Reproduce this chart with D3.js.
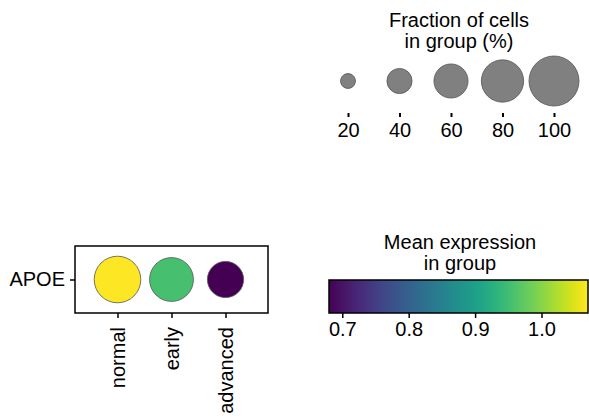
<!DOCTYPE html>
<html>
<head>
<meta charset="utf-8">
<script src="https://cdn.jsdelivr.net/npm/d3@7"></script>
<style>
  body { margin: 0; background: #fff; }
  text { font-family: "Liberation Sans", Arial, sans-serif; fill: #000; }
</style>
</head>
<body>
<svg width="589" height="419"></svg>
<script>
// Data
const genes = ["APOE"];
const groups = ["normal", "early", "advanced"];
const fraction = [91, 84, 65];          // % of cells in group
const meanExpr = [1.07, 0.955, 0.68];   // mean expression in group
const sizeTicks = [20, 40, 60, 80, 100];
const colorTicks = [0.7, 0.8, 0.9, 1.0];
const colorDomain = [0.68, 1.07];

const svg = d3.select("svg");
const fs = 20;

// scales
const r = d3.scalePow().exponent(0.75).domain([0, 100]).range([0, 25]);
const color = d3.scaleSequential(d3.interpolateViridis).domain(colorDomain);

// ---- main dot plot ----
const box = { left: 75, top: 246, right: 268, bottom: 313 };
const x = d3.scalePoint().domain(groups).range([box.left, box.right]).padding(0.787);
const y = d3.scalePoint().domain(genes).range([box.top, box.bottom]).padding(0.5);

const main = svg.append("g");

main.selectAll("circle.dot")
  .data(groups)
  .join("circle")
  .attr("class", "dot")
  .attr("cx", d => x(d))
  .attr("cy", y("APOE"))
  .attr("r", (d, i) => r(fraction[i]))
  .attr("fill", (d, i) => color(meanExpr[i]))
  .attr("stroke", "#555")
  .attr("stroke-width", 0.8);

main.append("rect")
  .attr("x", box.left).attr("y", box.top)
  .attr("width", box.right - box.left).attr("height", box.bottom - box.top)
  .attr("fill", "none").attr("stroke", "#000").attr("stroke-width", 1.5);

const xAxis = main.append("g")
  .attr("transform", `translate(0,${box.bottom})`)
  .call(d3.axisBottom(x).tickSize(5).tickPadding(4));
xAxis.select(".domain").remove();
xAxis.selectAll("line").attr("stroke-width", 1.5);
xAxis.selectAll("text")
  .style("font-size", fs + "px")
  .style("font-family", '"Liberation Sans", Arial, sans-serif')
  .attr("fill", "#000")
  .attr("text-anchor", "end")
  .attr("transform", "rotate(-90)")
  .attr("x", -14).attr("y", 0).attr("dy", "0.35em");

const yAxis = main.append("g")
  .attr("transform", `translate(${box.left},0)`)
  .call(d3.axisLeft(y).tickSize(5).tickPadding(5));
yAxis.select(".domain").remove();
yAxis.selectAll("line").attr("stroke-width", 1.5);
yAxis.selectAll("text")
  .style("font-size", fs + "px")
  .style("font-family", '"Liberation Sans", Arial, sans-serif')
  .attr("fill", "#000");

// ---- size legend ----
const sx = d3.scalePoint().domain(sizeTicks).range([348, 554]);
const sizeG = svg.append("g");

sizeG.append("text")
  .attr("x", 459).attr("y", 27)
  .attr("text-anchor", "middle").style("font-size", fs + "px")
  .text("Fraction of cells");
sizeG.append("text")
  .attr("x", 459).attr("y", 48)
  .attr("text-anchor", "middle").style("font-size", fs + "px")
  .text("in group (%)");

sizeG.selectAll("circle")
  .data(sizeTicks)
  .join("circle")
  .attr("cx", d => sx(d))
  .attr("cy", 81)
  .attr("r", d => r(d))
  .attr("fill", "#808080")
  .attr("stroke", "#555")
  .attr("stroke-width", 0.8);

const sAxis = sizeG.append("g")
  .attr("transform", "translate(0,113)")
  .call(d3.axisBottom(sx).tickSize(4).tickPadding(6));
sAxis.select(".domain").remove();
sAxis.selectAll("line").attr("stroke-width", 2);
sAxis.selectAll("text")
  .style("font-size", fs + "px")
  .style("font-family", '"Liberation Sans", Arial, sans-serif')
  .attr("fill", "#000");

// ---- colour bar ----
const cb = { left: 329, right: 588, top: 280, bottom: 313 };
const cx = d3.scaleLinear().domain(colorDomain).range([cb.left, cb.right]);
const cbG = svg.append("g");

const grad = svg.append("defs").append("linearGradient")
  .attr("id", "viridis").attr("x1", "0%").attr("x2", "100%");
grad.selectAll("stop")
  .data(d3.range(0, 1.0001, 0.05))
  .join("stop")
  .attr("offset", d => (d * 100) + "%")
  .attr("stop-color", d => d3.interpolateViridis(d));

cbG.append("text")
  .attr("x", 460).attr("y", 249)
  .attr("text-anchor", "middle").style("font-size", fs + "px")
  .text("Mean expression");
cbG.append("text")
  .attr("x", 460).attr("y", 270)
  .attr("text-anchor", "middle").style("font-size", fs + "px")
  .text("in group");

cbG.append("rect")
  .attr("x", cb.left).attr("y", cb.top)
  .attr("width", cb.right - cb.left).attr("height", cb.bottom - cb.top)
  .attr("fill", "url(#viridis)").attr("stroke", "#000").attr("stroke-width", 1.5);

const cAxis = cbG.append("g")
  .attr("transform", `translate(0,${cb.bottom})`)
  .call(d3.axisBottom(cx).tickValues(colorTicks).tickFormat(d3.format(".1f")).tickSize(5).tickPadding(4));
cAxis.select(".domain").remove();
cAxis.selectAll("line").attr("stroke-width", 1.5);
cAxis.selectAll("text")
  .style("font-size", fs + "px")
  .style("font-family", '"Liberation Sans", Arial, sans-serif')
  .attr("fill", "#000");
</script>
</body>
</html>
